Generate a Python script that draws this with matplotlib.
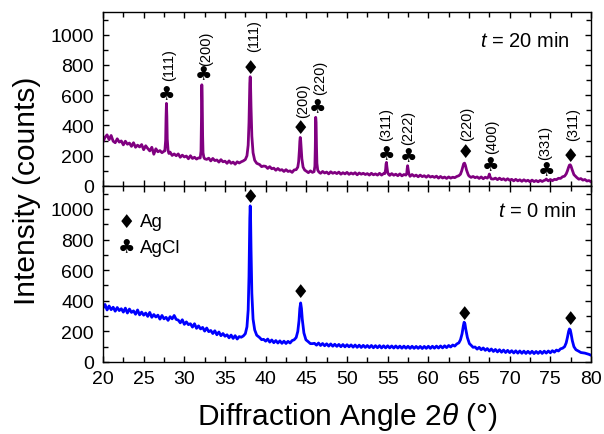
import matplotlib
matplotlib.use('Agg')
from matplotlib import pyplot as plt
from matplotlib.ticker import MultipleLocator

plt.rcParams['font.family'] = ['Liberation Sans', 'DejaVu Sans']
plt.rcParams['mathtext.fontset'] = 'custom'
plt.rcParams['mathtext.rm'] = 'Liberation Sans'
plt.rcParams['mathtext.it'] = 'Liberation Sans:italic'

# t = 20 min (purple)
tth_20 = [20.0, 20.25, 20.5, 20.75, 21.0, 21.25, 21.5, 21.75, 22.0, 22.25, 22.5, 22.75,
          23.0, 23.25, 23.5, 23.75, 24.0, 24.25, 24.5, 24.75, 25.0, 25.25, 25.5, 25.75,
          26.0, 26.25, 26.5, 26.75, 27.0, 27.25, 27.5,
          27.6, 27.7, 27.75, 27.8, 27.85, 27.9, 28.0, 28.1,
          28.25, 28.5, 28.75, 29.0, 29.25, 29.5, 29.75, 30.0, 30.25, 30.5, 30.75, 31.0,
          31.25, 31.5, 31.75,
          31.95, 32.05, 32.1, 32.15, 32.2, 32.25, 32.3, 32.4, 32.5,
          32.75, 33.0, 33.25, 33.5, 33.75, 34.0, 34.25, 34.5, 34.75, 35.0, 35.25, 35.5,
          35.75, 36.0, 36.25, 36.5, 36.75, 37.0, 37.25,
          37.5, 37.7, 37.85, 37.95, 38.0, 38.05, 38.1, 38.15, 38.2, 38.3, 38.45, 38.65, 38.9,
          39.25, 39.5, 39.75, 40.0, 40.25, 40.5, 40.75, 41.0, 41.25, 41.5, 41.75, 42.0,
          42.25, 42.5, 42.75, 43.0, 43.25, 43.5, 43.75,
          43.95, 44.05, 44.15, 44.2, 44.25, 44.3, 44.35, 44.45, 44.6, 44.8,
          45.0, 45.25, 45.5, 45.75,
          45.95, 46.05, 46.1, 46.15, 46.2, 46.25, 46.3, 46.4, 46.55,
          46.75, 47.0, 47.25, 47.5, 47.75, 48.0, 48.25, 48.5, 48.75, 49.0, 49.25, 49.5,
          49.75, 50.0, 50.25, 50.5, 50.75, 51.0, 51.25, 51.5, 51.75, 52.0, 52.25, 52.5,
          52.75, 53.0, 53.25, 53.5, 53.75, 54.0, 54.25, 54.5,
          54.65, 54.75, 54.8, 54.85, 54.9, 55.0, 55.1,
          55.25, 55.5, 55.75, 56.0, 56.25, 56.5, 56.75, 57.0, 57.25,
          57.35, 57.4, 57.45, 57.5, 57.6, 57.7,
          57.75, 58.0, 58.25, 58.5, 58.75, 59.0, 59.25, 59.5, 59.75, 60.0, 60.25, 60.5,
          60.75, 61.0, 61.25, 61.5, 61.75, 62.0, 62.25, 62.5, 62.75, 63.0, 63.25, 63.5, 63.75,
          63.95, 64.1, 64.25, 64.35, 64.45, 64.55, 64.7, 64.9,
          65.0, 65.25, 65.5, 65.75, 66.0, 66.25, 66.5, 66.75, 67.0, 67.25,
          67.4, 67.5, 67.6,
          67.75, 68.0, 68.25, 68.5, 68.75, 69.0, 69.25, 69.5, 69.75, 70.0, 70.25, 70.5,
          70.75, 71.0, 71.25, 71.5, 71.75, 72.0, 72.25, 72.5, 72.75, 73.0, 73.25, 73.5,
          73.75, 74.0, 74.25,
          74.4, 74.5, 74.6,
          74.75, 75.0, 75.25, 75.5, 75.75, 76.0, 76.25, 76.5, 76.75,
          76.95, 77.1, 77.25, 77.35, 77.45, 77.55, 77.7, 77.9,
          78.25, 78.5, 78.75, 79.0, 79.25, 79.5, 79.75, 80.0]
cnt_20 = [292, 322, 338, 306, 334, 296, 286, 312, 290, 298, 272, 296,
          276, 284, 262, 286, 256, 270, 258, 274, 240, 266, 248, 232,
          256, 210, 246, 226, 234, 220, 230,
          232, 300, 450, 546, 460, 310, 235, 215,
          224, 202, 212, 200, 212, 190, 204, 192, 198, 180, 200, 182,
          190, 178, 186,
          185, 230, 420, 669, 560, 330, 220, 190, 180,
          176, 184, 166, 182, 168, 172, 158, 174, 160, 164, 150, 166,
          150, 158, 144, 160, 152, 160, 166,
          175, 200, 270, 420, 560, 680, 722, 650, 520, 330, 220, 170, 150,
          142, 128, 132, 130, 116, 128, 114, 118, 104, 116, 104, 108,
          96, 108, 96, 100, 90, 106, 108,
          125, 160, 240, 295, 321, 305, 260, 180, 125, 105,
          98, 88, 100, 90,
          95, 130, 250, 454, 420, 260, 150, 105, 92,
          84, 96, 86, 92, 80, 94, 84, 90, 82, 92, 78, 88,
          80, 90, 77, 86, 79, 88, 74, 86, 78, 84, 76, 82,
          72, 84, 74, 80, 72, 84, 72, 82,
          82, 110, 145, 156, 130, 90, 78,
          70, 82, 71, 78, 68, 80, 67, 76, 72,
          85, 115, 134, 118, 82, 70,
          64, 76, 65, 72, 61, 72, 62, 68, 58, 69, 59, 64,
          57, 65, 52, 63, 53, 59, 50, 60, 52, 58, 55, 63, 68,
          78, 100, 130, 148, 151, 138, 105, 75,
          66, 57, 63, 55, 60, 50, 60, 48, 58, 52,
          62, 79, 60,
          47, 46, 52, 42, 52, 42, 48, 38, 48, 38, 44, 34,
          44, 34, 41, 31, 41, 32, 38, 28, 39, 29, 36, 28,
          37, 30, 37,
          40, 46, 40,
          34, 43, 35, 44, 42, 51, 50, 61, 65,
          80, 100, 125, 138, 140, 130, 105, 75,
          56, 45, 49, 39, 43, 33, 36, 28]

# t = 0 min (blue)
tth_0 = [20.0, 20.25, 20.5, 20.75, 21.0, 21.25, 21.5, 21.75, 22.0, 22.25, 22.5, 22.75,
         23.0, 23.25, 23.5, 23.75, 24.0, 24.25, 24.5, 24.75, 25.0, 25.25, 25.5, 25.75,
         26.0, 26.25, 26.5, 26.75, 27.0, 27.25, 27.5, 27.75, 28.0, 28.25, 28.5, 28.75,
         29.0, 29.25, 29.5, 29.75, 30.0, 30.25, 30.5, 30.75, 31.0, 31.25, 31.5, 31.75,
         32.0, 32.25, 32.5, 32.75, 33.0, 33.25, 33.5, 33.75, 34.0, 34.25, 34.5, 34.75,
         35.0, 35.25, 35.5, 35.75, 36.0, 36.25, 36.5, 36.75, 37.0, 37.25,
         37.5, 37.7, 37.85, 37.95, 38.0, 38.05, 38.1, 38.15, 38.2, 38.3, 38.45, 38.65, 38.9,
         39.25, 39.5, 39.75, 40.0, 40.25, 40.5, 40.75, 41.0, 41.25, 41.5, 41.75, 42.0,
         42.25, 42.5, 42.75, 43.0, 43.25, 43.5,
         43.75, 43.95, 44.1, 44.2, 44.3, 44.4, 44.5, 44.7, 44.95,
         45.25, 45.5, 45.75, 46.0, 46.25, 46.5, 46.75, 47.0, 47.25, 47.5, 47.75, 48.0,
         48.25, 48.5, 48.75, 49.0, 49.25, 49.5, 49.75, 50.0, 50.25, 50.5, 50.75, 51.0,
         51.25, 51.5, 51.75, 52.0, 52.25, 52.5, 52.75, 53.0, 53.25, 53.5, 53.75, 54.0,
         54.25, 54.5, 54.75, 55.0, 55.25, 55.5, 55.75, 56.0, 56.25, 56.5, 56.75, 57.0,
         57.25, 57.5, 57.75, 58.0, 58.25, 58.5, 58.75, 59.0, 59.25, 59.5, 59.75, 60.0,
         60.25, 60.5, 60.75, 61.0, 61.25, 61.5, 61.75, 62.0, 62.25, 62.5, 62.75, 63.0,
         63.25, 63.5,
         63.75, 63.95, 64.15, 64.3, 64.4, 64.5, 64.6, 64.8, 65.05,
         65.25, 65.5, 65.75, 66.0, 66.25, 66.5, 66.75, 67.0, 67.25, 67.5, 67.75, 68.0,
         68.25, 68.5, 68.75, 69.0, 69.25, 69.5, 69.75, 70.0, 70.25, 70.5, 70.75, 71.0,
         71.25, 71.5, 71.75, 72.0, 72.25, 72.5, 72.75, 73.0, 73.25, 73.5, 73.75, 74.0,
         74.25, 74.5, 74.75, 75.0, 75.25, 75.5, 75.75, 76.0, 76.25, 76.5,
         76.75, 76.95, 77.1, 77.25, 77.35, 77.45, 77.55, 77.7, 77.9, 78.15,
         78.5, 78.75, 79.0, 79.25, 79.5, 79.75, 80.0]
cnt_0 = [352, 376, 340, 366, 342, 358, 332, 356, 336, 348, 326, 352,
         320, 346, 324, 334, 312, 340, 308, 326, 306, 320, 298, 324,
         292, 310, 294, 306, 280, 304, 282, 292, 272, 296, 282, 304,
         278, 274, 256, 276, 246, 262, 244, 250, 228, 250, 220, 236,
         216, 226, 202, 222, 198, 206, 186, 204, 178, 196, 172, 186,
         168, 178, 158, 176, 154, 172, 150, 166, 162, 170,
         185, 230, 340, 560, 760, 940, 1020, 930, 740, 450, 280, 210, 175,
         160, 146, 148, 136, 150, 130, 144, 126, 140, 124, 138, 122,
         136, 121, 135, 124, 140, 145,
         160, 200, 270, 350, 386, 350, 280, 190, 145,
         132, 120, 120, 122, 110, 124, 108, 121, 106, 119, 104, 118,
         103, 116, 102, 115, 100, 114, 99, 113, 99, 112, 97, 111,
         96, 110, 95, 109, 95, 108, 94, 108, 93, 107, 93, 107,
         92, 106, 92, 106, 92, 105, 91, 105, 91, 104, 90, 104,
         90, 103, 89, 103, 89, 102, 89, 102, 88, 102, 89, 103,
         89, 103, 90, 104, 91, 105, 92, 106, 94, 108, 98, 111,
         104, 118,
         125, 145, 185, 235, 260, 250, 215, 160, 120,
         110, 96, 98, 84, 96, 80, 92, 76, 88, 72, 85, 69,
         82, 66, 80, 64, 78, 62, 76, 61, 74, 59, 73, 58,
         72, 57, 71, 56, 70, 56, 70, 55, 69, 56, 70, 56,
         71, 58, 72, 60, 74, 64, 78, 72, 86, 90,
         100, 125, 160, 200, 216, 210, 185, 140, 100, 80,
         70, 62, 60, 58, 54, 50, 44]

# peak assignments: (position, marker height, label centre height, label)
ag_marks_20 = [(38.16, 781, 1000, '(111)'), (44.23, 386, 572, '(200)'),
               (64.53, 226, 414, '(220)'), (77.45, 202, 414, '(311)')]
agcl_marks_20 = [(27.83, 610, 803, '(111)'), (32.34, 743, 912, '(200)'),
                 (46.36, 526, 721, '(220)'), (54.9, 217, 414, '(311)'),
                 (57.55, 199, 391, '(222)'), (67.7, 140, 329, '(400)'),
                 (74.57, 105, 293, '(331)')]
label_dx = [0.4, 0.4, 0.3, 0.4, 0.25, 0.4, 0.35, -0.15, 0.0, 0.15, -0.2]
ag_marks_0 = [(38.15, 1079), (44.23, 460), (64.5, 314), (77.45, 286)]

W, H = 604, 435
fig = plt.figure(figsize=(W / 100, H / 100), dpi=100)
ax_top = fig.add_axes([103 / W, (H - 187) / H, 488 / W, 174 / H])
ax_bot = fig.add_axes([103 / W, (H - 363) / H, 488 / W, 176 / H])

ax_top.plot(tth_20, cnt_20, color='#800080', lw=2.0)
ax_bot.plot(tth_0, cnt_0, color='#0000ff', lw=2.0)

sym = dict(family='DejaVu Sans', fontsize=14, ha='center', va='center')
for i, (x, y, ly, lab) in enumerate(ag_marks_20 + agcl_marks_20):
    s = '\u2666' if i < len(ag_marks_20) else '\u2663'
    ax_top.text(x, y, s, **sym)
    ax_top.text(x + label_dx[i], ly, lab, rotation=90, fontsize=10.5,
                ha='center', va='center')
for x, y in ag_marks_0:
    ax_bot.text(x, y, '\u2666', **sym)

ax_top.text(77.35, 962, '$t$ = 20 min', fontsize=14.5, ha='right', va='center')
ax_bot.text(78.2, 987, '$t$ = 0 min', fontsize=14.5, ha='right', va='center')

# legend
ax_bot.text(22.9, 919, '\u2666', **sym)
ax_bot.text(22.9, 751, '\u2663', **sym)
ax_bot.text(24.5, 919, 'Ag', fontsize=13.5, ha='left', va='center')
ax_bot.text(24.5, 751, 'AgCl', fontsize=13.5, ha='left', va='center')

for ax in (ax_top, ax_bot):
    ax.set_xlim(20, 80)
    ax.set_ylim(0, 1150)
    ax.xaxis.set_major_locator(MultipleLocator(5))
    ax.xaxis.set_minor_locator(MultipleLocator(2.5))
    ax.yaxis.set_major_locator(MultipleLocator(200))
    ax.yaxis.set_minor_locator(MultipleLocator(100))
    ax.tick_params(which='both', direction='in', top=True, right=True,
                   labelsize=14, width=1)
    ax.tick_params(which='major', length=4.5)
    ax.tick_params(which='minor', length=3.5)
    ax.tick_params(axis='y', pad=6.5)
    ax.tick_params(axis='x', pad=6)
    for sp in ax.spines.values():
        sp.set_linewidth(1)
ax_top.tick_params(labelbottom=False)

ax_bot.set_xlabel('Diffraction Angle 2$\\theta$ (°)', fontsize=21.5, labelpad=9)
fig.text(27 / W, (H - 191) / H, 'Intensity (counts)', rotation=90, fontsize=21.5,
         ha='center', va='center')

fig.savefig('out.png', dpi=100)
